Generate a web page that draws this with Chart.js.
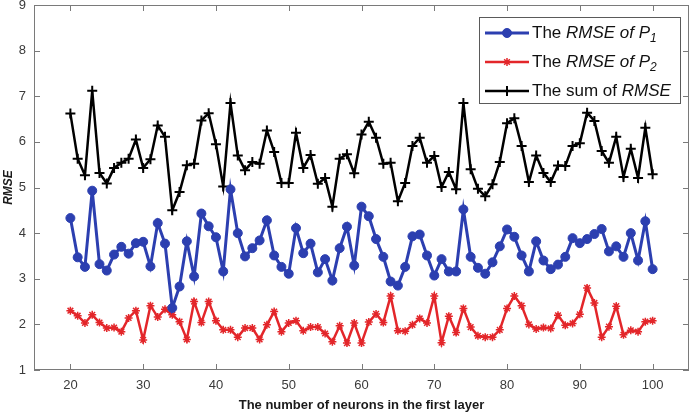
<!DOCTYPE html>
<html>
<head>
<meta charset="utf-8">
<script src="https://cdn.jsdelivr.net/npm/chart.js@4/dist/chart.umd.min.js"></script>
<style>
  html, body { margin: 0; padding: 0; background: #fff; }
  #wrap { width: 691px; height: 417px; }
</style>
</head>
<body>
<div id="wrap"><canvas id="c" width="691" height="417"></canvas></div>
<script>
// Number of neurons in the first layer
const neurons = [];
for (let n = 20; n <= 100; n++) neurons.push(n);

// RMSE of P1
const rmseP1 = [
  4.33, 3.47, 3.26, 4.93, 3.32, 3.18, 3.53, 3.70, 3.55, 3.78,
  3.81, 3.27, 4.22, 3.77, 2.36, 2.83, 3.82, 3.05, 4.43, 4.15,
  3.91, 3.16, 4.96, 4.00, 3.49, 3.67, 3.84, 4.28, 3.51, 3.26,
  3.11, 4.11, 3.56, 3.77, 3.14, 3.43, 2.96, 3.67, 4.14, 3.29,
  4.58, 4.37, 3.87, 3.48, 2.94, 2.85, 3.26, 3.93, 3.97, 3.51,
  3.07, 3.43, 3.16, 3.16, 4.52, 3.48, 3.24, 3.11, 3.36, 3.71,
  4.08, 3.92, 3.51, 3.16, 3.82, 3.40, 3.21, 3.31, 3.48, 3.89,
  3.78, 3.87, 3.98, 4.09, 3.60, 3.71, 3.48, 4.00, 3.40, 4.26,
  3.21
];

// RMSE of P2
const rmseP2 = [
  2.30, 2.19, 2.03, 2.21, 2.04, 1.92, 1.93, 1.84, 2.14, 2.30,
  1.66, 2.41, 2.16, 2.33, 2.21, 2.06, 1.67, 2.50, 2.04, 2.50,
  2.08, 1.88, 1.88, 1.72, 1.92, 1.92, 1.67, 1.99, 2.28, 1.84,
  2.03, 2.08, 1.86, 1.94, 1.94, 1.80, 1.62, 1.97, 1.59, 2.03,
  1.59, 2.05, 2.23, 2.04, 2.62, 1.86, 1.85, 1.99, 2.13, 2.03,
  2.62, 1.60, 2.18, 1.82, 2.35, 1.94, 1.75, 1.72, 1.72, 1.88,
  2.35, 2.62, 2.41, 2.00, 1.90, 1.93, 1.91, 2.20, 1.98, 2.02,
  2.22, 2.80, 2.47, 1.72, 1.95, 2.40, 1.77, 1.87, 1.84, 2.06,
  2.08
];

// Sum of RMSE
const rmseSum = [
  6.62, 5.63, 5.27, 7.12, 5.32, 5.09, 5.43, 5.54, 5.63, 6.05,
  5.43, 5.62, 6.36, 6.11, 4.50, 4.90, 5.49, 5.52, 6.47, 6.63,
  5.95, 5.02, 6.85, 5.70, 5.38, 5.56, 5.52, 6.25, 5.78, 5.10,
  5.10, 6.20, 5.43, 5.71, 5.08, 5.21, 4.58, 5.63, 5.73, 5.31,
  6.16, 6.44, 6.09, 5.52, 5.54, 4.70, 5.10, 5.91, 6.09, 5.54,
  5.69, 5.01, 5.34, 4.96, 6.85, 5.40, 4.97, 4.81, 5.07, 5.56,
  6.41, 6.52, 5.91, 5.12, 5.70, 5.32, 5.12, 5.48, 5.47, 5.91,
  5.97, 6.64, 6.46, 5.80, 5.54, 6.11, 5.23, 5.85, 5.21, 6.31,
  5.29
];

const xTicks = [20, 30, 40, 50, 60, 70, 80, 90, 100];
const yTicks = [1, 2, 3, 4, 5, 6, 7, 8, 9];

// Legend rows: runs of text with their style
const legendRows = [
  [{ t: 'The ', it: false }, { t: 'RMSE of P', it: true }, { t: '1', it: true, sub: true }],
  [{ t: 'The ', it: false }, { t: 'RMSE of P', it: true }, { t: '2', it: true, sub: true }],
  [{ t: 'The sum of ', it: false }, { t: 'RMSE', it: true }]
];

const FONT = '"Liberation Sans", Arial, sans-serif';
const BLUE = '#2c3fb0';
const RED = '#e3262a';
const BLACK = '#000000';

const toPts = (arr) => arr.map((v, i) => ({ x: neurons[i], y: v }));

// Box around the plot and inward tick marks on all four sides
const boxPlugin = {
  id: 'boxTicks',
  afterDatasetsDraw(chart) {
    const { ctx, chartArea: a, scales } = chart;
    ctx.save();
    ctx.strokeStyle = '#7a7a7a';
    ctx.lineWidth = 1;
    ctx.strokeRect(a.left + 0.5, a.top + 0.5, a.right - a.left - 1, a.bottom - a.top - 1);
    ctx.beginPath();
    xTicks.forEach(v => {
      const px = Math.round(scales.x.getPixelForValue(v)) + 0.5;
      ctx.moveTo(px, a.bottom); ctx.lineTo(px, a.bottom - 6);
      ctx.moveTo(px, a.top); ctx.lineTo(px, a.top + 6);
    });
    yTicks.forEach(v => {
      const py = Math.round(scales.y.getPixelForValue(v)) + 0.5;
      ctx.moveTo(a.left, py); ctx.lineTo(a.left + 6, py);
      ctx.moveTo(a.right, py); ctx.lineTo(a.right - 6, py);
    });
    ctx.stroke();
    ctx.restore();
  },
  afterDraw(chart) {
    // Legend with mixed upright / italic text and subscripts
    const { ctx } = chart;
    const bx = 479, by = 17, bw = 201, bh = 86;
    ctx.save();
    ctx.fillStyle = '#fff';
    ctx.fillRect(bx, by, bw, bh);
    ctx.strokeStyle = '#5a5a5a';
    ctx.lineWidth = 1;
    ctx.strokeRect(bx + 0.5, by + 0.5, bw, bh);
    const rowY = [33, 62, 91];
    chart.data.datasets.forEach((ds, i) => {
      const y = rowY[i];
      ctx.strokeStyle = ds.borderColor;
      ctx.lineWidth = ds.borderWidth;
      ctx.beginPath();
      ctx.moveTo(485, y); ctx.lineTo(529, y);
      ctx.stroke();
      ctx.fillStyle = ds.pointBackgroundColor;
      ctx.strokeStyle = ds.pointBorderColor;
      ctx.lineWidth = ds.pointBorderWidth;
      Chart.helpers.drawPoint(ctx, {
        pointStyle: ds.pointStyle,
        radius: ds.pointRadius,
        rotation: 0,
        borderWidth: ds.pointBorderWidth
      }, 507, y);
      let x = 532;
      ctx.fillStyle = '#111';
      ctx.textBaseline = 'middle';
      ctx.textAlign = 'left';
      legendRows[i].forEach(run => {
        const size = run.sub ? 12 : 17;
        ctx.font = (run.it ? 'italic ' : '') + size + 'px ' + FONT;
        ctx.fillText(run.t, x, run.sub ? y + 6 : y);
        x += ctx.measureText(run.t).width;
      });
    });
    ctx.restore();
  }
};

new Chart(document.getElementById('c'), {
  type: 'line',
  data: {
    datasets: [
      {
        label: 'The RMSE of P1',
        data: toPts(rmseP1),
        borderColor: BLUE,
        backgroundColor: BLUE,
        borderWidth: 3,
        pointStyle: 'circle',
        pointRadius: 4.5,
        pointBackgroundColor: BLUE,
        pointBorderColor: BLUE,
        pointBorderWidth: 1,
        tension: 0
      },
      {
        label: 'The RMSE of P2',
        data: toPts(rmseP2),
        borderColor: RED,
        backgroundColor: RED,
        borderWidth: 2.5,
        pointStyle: 'star',
        pointRadius: 4,
        pointBackgroundColor: RED,
        pointBorderColor: RED,
        pointBorderWidth: 1.5,
        tension: 0
      },
      {
        label: 'The sum of RMSE',
        data: toPts(rmseSum),
        borderColor: BLACK,
        backgroundColor: BLACK,
        borderWidth: 2.5,
        pointStyle: 'cross',
        pointRadius: 5,
        pointBackgroundColor: BLACK,
        pointBorderColor: BLACK,
        pointBorderWidth: 2,
        tension: 0
      }
    ]
  },
  options: {
    responsive: false,
    animation: false,
    layout: { autoPadding: false, padding: { top: 5, right: 2, left: 0, bottom: 0 } },
    plugins: { legend: { display: false }, tooltip: { enabled: false } },
    scales: {
      x: {
        type: 'linear',
        min: 15,
        max: 105,
        afterBuildTicks: (s) => { s.ticks = xTicks.map(v => ({ value: v })); },
        afterFit: (s) => { s.height = 47; s.paddingLeft = 0; s.paddingRight = 0; },
        grid: { display: false, drawTicks: false },
        border: { display: false },
        ticks: {
          padding: 8,
          color: '#3a3a3a',
          font: { family: FONT, size: 13 },
          maxRotation: 0
        },
        title: {
          display: true,
          text: 'The number of neurons in the first layer',
          color: '#1a1a1a',
          font: { family: FONT, size: 13, weight: 'bold' },
          padding: { top: 2, bottom: 4 }
        }
      },
      y: {
        min: 1,
        max: 9,
        afterBuildTicks: (s) => { s.ticks = yTicks.map(v => ({ value: v })); },
        afterFit: (s) => { s.width = 34; s.paddingTop = 0; s.paddingBottom = 0; },
        grid: { display: false, drawTicks: false },
        border: { display: false },
        ticks: {
          padding: 8,
          color: '#3a3a3a',
          font: { family: FONT, size: 13 }
        },
        title: {
          display: true,
          text: 'RMSE',
          color: '#1a1a1a',
          font: { family: FONT, size: 12, weight: 'bold', style: 'italic' },
          padding: { top: 1, bottom: 0 }
        }
      }
    }
  },
  plugins: [boxPlugin]
});
</script>
</body>
</html>
